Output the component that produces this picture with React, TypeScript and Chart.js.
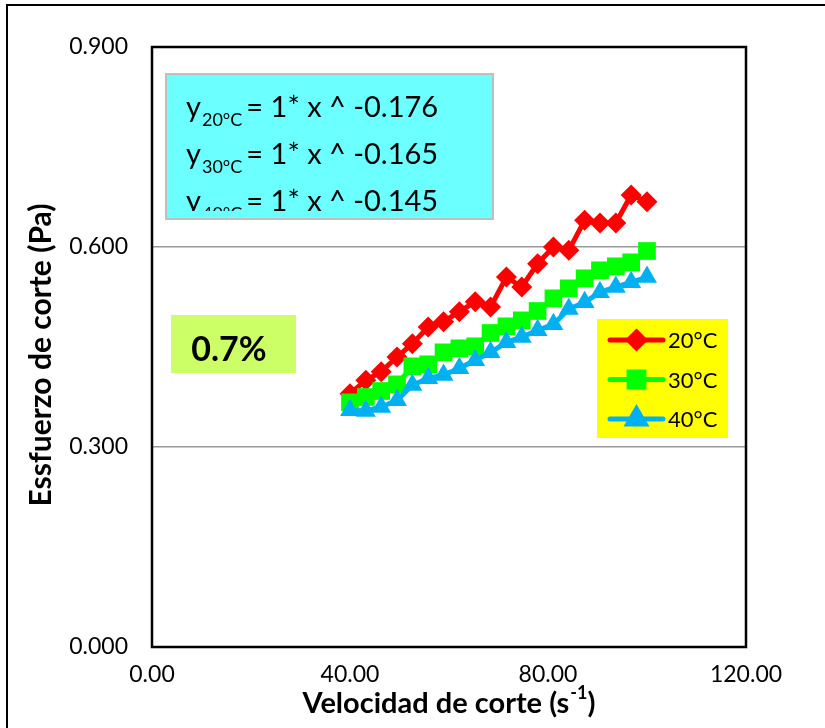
import React, { useEffect, useRef } from 'react';
import { Chart, registerables } from 'chart.js';
import { drawPoint } from 'chart.js/helpers';

Chart.register(...registerables);

const shearRate = [40.0, 43.2, 46.3, 49.5, 52.6, 55.8, 58.9, 62.1, 65.3, 68.4, 71.6, 74.7, 77.9, 81.1, 84.2, 87.4, 90.5, 93.7, 96.8, 100.0];
const stress20 = [0.380, 0.400, 0.413, 0.435, 0.455, 0.480, 0.488, 0.503, 0.518, 0.510, 0.555, 0.540, 0.575, 0.600, 0.595, 0.640, 0.636, 0.636, 0.678, 0.668];
const stress30 = [0.367, 0.375, 0.384, 0.394, 0.421, 0.424, 0.442, 0.448, 0.451, 0.471, 0.481, 0.490, 0.504, 0.523, 0.538, 0.553, 0.565, 0.571, 0.577, 0.594];
const stress40 = [0.355, 0.354, 0.360, 0.370, 0.393, 0.403, 0.408, 0.418, 0.430, 0.442, 0.457, 0.465, 0.475, 0.484, 0.507, 0.517, 0.532, 0.540, 0.547, 0.555];

const seriesLabels = ['20°C', '30°C', '40°C'];
const seriesColors = ['#FF0000', '#00FF00', '#00B0F0'];
const equationSubs = ['20°C', '30°C', '40°C'];
const equationRest = ['= 1* x ^ -0.176', '= 1* x ^ -0.165', '= 1* x ^ -0.145'];
const percentLabel = '0.7%';
const xTitle = 'Velocidad de corte (s';
const xTitleSup = '-1';
const yTitle = 'Essfuerzo de corte (Pa)';

const FONT = 'Lato, "Open Sans", sans-serif';

const decor = {
  id: 'decor',
  afterDraw(chart: any) {
    const ctx: CanvasRenderingContext2D = chart.ctx;
    const { left, top, right, bottom } = chart.chartArea;
    ctx.save();

    // plot border
    ctx.strokeStyle = '#000';
    ctx.lineWidth = 2.5;
    ctx.strokeRect(left, top, right - left, bottom - top);

    // outer frame
    ctx.lineWidth = 2;
    ctx.beginPath();
    ctx.moveTo(7, 760);
    ctx.lineTo(7, 5);
    ctx.lineTo(840, 5);
    ctx.stroke();

    // equation box
    ctx.fillStyle = '#6BFFFF';
    ctx.fillRect(166, 74, 327, 145);
    ctx.strokeStyle = '#BFBFBF';
    ctx.lineWidth = 2;
    ctx.strokeRect(166, 74, 327, 145);
    ctx.save();
    ctx.beginPath();
    ctx.rect(166, 74, 327, 137);
    ctx.clip();
    ctx.fillStyle = '#000';
    ctx.textBaseline = 'alphabetic';
    ctx.textAlign = 'left';
    equationSubs.forEach((sub, i) => {
      const base = 117 + i * 47;
      let x = 186;
      ctx.font = `29px ${FONT}`;
      ctx.fillText('y', x, base);
      x += ctx.measureText('y').width + 1;
      ctx.font = `18px ${FONT}`;
      ctx.fillText(sub, x, base + 9);
      x += ctx.measureText(sub).width + 4;
      ctx.font = `29px ${FONT}`;
      ctx.fillText(equationRest[i], x, base);
    });
    ctx.restore();

    // percent box
    ctx.fillStyle = '#CCFF66';
    ctx.fillRect(171, 315, 125, 58);
    ctx.fillStyle = '#000';
    ctx.font = `bold 34px ${FONT}`;
    ctx.textAlign = 'center';
    ctx.textBaseline = 'middle';
    ctx.fillText(percentLabel, 229, 350);

    // legend
    ctx.fillStyle = '#FFFF00';
    ctx.fillRect(597, 319, 131, 119);
    const styles = ['rectRot', 'rect', 'triangle'];
    const radii = [8, 10.5, 10];
    seriesLabels.forEach((lab, i) => {
      const y = 340 + i * 39.5;
      ctx.strokeStyle = seriesColors[i];
      ctx.lineWidth = 5;
      ctx.lineCap = 'round';
      ctx.beginPath();
      ctx.moveTo(610, y);
      ctx.lineTo(663, y);
      ctx.stroke();
      ctx.fillStyle = seriesColors[i];
      drawPoint(ctx, { pointStyle: styles[i], radius: radii[i], borderWidth: 1, rotation: 0 } as any, 636.5, y);
      ctx.fill();
      ctx.fillStyle = '#000';
      ctx.font = `22px ${FONT}`;
      ctx.textAlign = 'left';
      ctx.textBaseline = 'middle';
      ctx.fillText(lab, 668, y + 1);
    });

    // x title
    ctx.fillStyle = '#000';
    ctx.textBaseline = 'alphabetic';
    ctx.textAlign = 'left';
    ctx.font = `bold 29px ${FONT}`;
    const w1 = ctx.measureText(xTitle).width;
    ctx.font = `bold 18px ${FONT}`;
    const w2 = ctx.measureText(xTitleSup).width;
    ctx.font = `bold 29px ${FONT}`;
    const w3 = ctx.measureText(')').width;
    const total = w1 + w2 + w3 + 1;
    let xs = (left + right) / 2 - total / 2;
    ctx.fillText(xTitle, xs, 713);
    xs += w1 + 1;
    ctx.font = `bold 18px ${FONT}`;
    ctx.fillText(xTitleSup, xs, 699);
    xs += w2;
    ctx.font = `bold 29px ${FONT}`;
    ctx.fillText(')', xs, 713);

    // y title
    ctx.save();
    ctx.translate(51, 355);
    ctx.rotate(-Math.PI / 2);
    ctx.textAlign = 'center';
    ctx.textBaseline = 'alphabetic';
    ctx.font = `bold 30px ${FONT}`;
    ctx.fillText(yTitle, 0, 0);
    ctx.restore();

    ctx.restore();
  },
};

export default function App() {
  const ref = useRef<HTMLCanvasElement | null>(null);
  useEffect(() => {
    if (!ref.current) return;
    const mk = (arr: number[]) => shearRate.map((x, i) => ({ x, y: arr[i] }));
    const chart = new Chart(ref.current, {
      type: 'line',
      data: {
        datasets: [
          { label: seriesLabels[0], data: mk(stress20), borderColor: seriesColors[0], backgroundColor: seriesColors[0], borderWidth: 5, pointStyle: 'rectRot', pointRadius: 10.5, pointBorderWidth: 0, order: 3 },
          { label: seriesLabels[1], data: mk(stress30), borderColor: seriesColors[1], backgroundColor: seriesColors[1], borderWidth: 5, pointStyle: 'rect', pointRadius: 12.5, pointBorderWidth: 0, order: 2 },
          { label: seriesLabels[2], data: mk(stress40), borderColor: seriesColors[2], backgroundColor: seriesColors[2], borderWidth: 5, pointStyle: 'triangle', pointRadius: 11.5, pointBorderWidth: 0, order: 1 },
        ],
      },
      options: {
        animation: false,
        responsive: false,
        maintainAspectRatio: false,
        layout: { padding: { left: 0, top: 47, right: 79, bottom: 0 } },
        plugins: { legend: { display: false }, tooltip: { enabled: false } },
        scales: {
          x: {
            type: 'linear',
            min: 0,
            max: 120,
            afterFit: (s: any) => { s.height = 81; },
            ticks: { stepSize: 40, padding: 14, color: '#000', font: { family: FONT, size: 23 }, callback: (v: any) => Number(v).toFixed(2) },
            grid: { display: false, drawTicks: false },
            border: { display: false },
          },
          y: {
            type: 'linear',
            min: 0,
            max: 0.9,
            afterFit: (s: any) => { s.width = 152; },
            ticks: { stepSize: 0.3, padding: 24, color: '#000', font: { family: FONT, size: 23 }, callback: (v: any) => Number(v).toFixed(3) },
            grid: {
              drawTicks: false,
              lineWidth: 1.5,
              color: (c: any) => (c.tick && (c.tick.value > 0.01 && c.tick.value < 0.89) ? '#999999' : 'rgba(0,0,0,0)'),
            },
            border: { display: false },
          },
        },
      },
      plugins: [decor],
    });
    return () => chart.destroy();
  }, []);
  return (
    <div style={{ position: 'fixed', left: 0, top: 0, width: 825, height: 728, background: '#fff' }}>
      <canvas ref={ref} width={825} height={728} style={{ width: 825, height: 728, display: 'block' }} />
    </div>
  );
}
